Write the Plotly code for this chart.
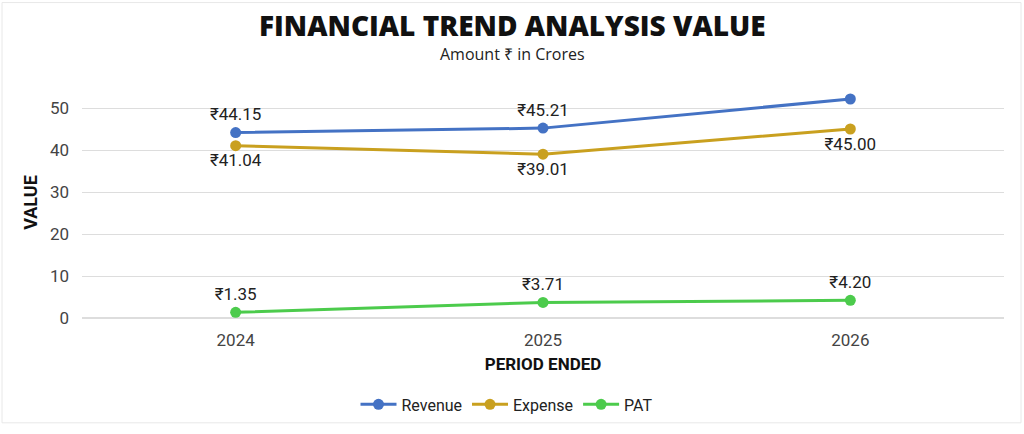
import plotly.graph_objects as go

periods = ["2024", "2025", "2026"]
revenue = [44.15, 45.21, 52.14]
expense = [41.04, 39.01, 45.00]
pat = [1.35, 3.71, 4.20]

series = [
    ("Revenue", revenue, "#4472C4", "top center"),
    ("Expense", expense, "#C9A01F", "bottom center"),
    ("PAT", pat, "#4CCB4C", "top center"),
]

W, H = 1024, 434
L, R, T, B = 82, 20, 87, 109
pw, ph = W - L - R, H - T - B
px_x = lambda p: (p - L) / pw          # pixel -> paper coords
px_y = lambda p: (H - B - p) / ph

fig = go.Figure()
for name, vals, col, pos in series:
    fig.add_trace(go.Scatter(
        x=periods, y=vals, name=name, mode="lines+markers+text",
        line=dict(color=col, width=3), marker=dict(color=col, size=11),
        text=["₹%.2f" % v for v in vals], textposition=pos,
        textfont=dict(family="Roboto", size=17, color="#222222"),
    ))

fig.update_layout(
    width=W, height=H,
    margin=dict(l=L, r=R, t=T, b=B),
    paper_bgcolor="white", plot_bgcolor="white",
    font=dict(family="Roboto", color="#333333"),
    showlegend=True,
    legend=dict(orientation="h", x=px_x(507), xanchor="center", y=px_y(414), yanchor="middle",
                font=dict(family="Roboto", size=16, color="#222222"), itemwidth=36),
    annotations=[
        dict(text="FINANCIAL TREND ANALYSIS VALUE", x=px_x(512), y=px_y(23), xref="paper", yref="paper",
             xanchor="center", yanchor="middle", showarrow=False,
             font=dict(family="Open Sans", size=28, weight=800, color="#111111")),
        dict(text="Amount ₹ in Crores", x=px_x(512), y=px_y(53), xref="paper", yref="paper",
             xanchor="center", yanchor="middle", showarrow=False,
             font=dict(family="Open Sans", size=16, color="#222222")),
    ],
    shapes=[
        dict(type="rect", xref="paper", yref="paper", x0=px_x(2), x1=px_x(1021), y0=px_y(433), y1=px_y(0),
             line=dict(color="#E8E8E8", width=1), layer="below"),
    ],
)

fig.update_xaxes(
    type="category", range=[-0.5, 2.5], showgrid=False, showline=False, ticks="",
    ticklabelstandoff=10,
    tickfont=dict(family="Roboto", size=17, color="#444444"),
    title=dict(text="<b>PERIOD ENDED</b>", standoff=9,
               font=dict(family="Roboto", size=17, color="#111111")),
)
fig.update_yaxes(
    range=[0, 55], dtick=10, showgrid=True, gridcolor="#DDDDDD", gridwidth=1,
    zeroline=True, zerolinecolor="#DDDDDD", showline=False, ticks="",
    ticklabelstandoff=12,
    tickfont=dict(family="Roboto", size=17, color="#444444"),
    title=dict(text="<b>VALUE</b>", standoff=7,
               font=dict(family="Roboto", size=18, color="#111111")),
)

fig.write_html("out.html", config={"displayModeBar": False},
               post_script="document.body.style.margin='0';")
